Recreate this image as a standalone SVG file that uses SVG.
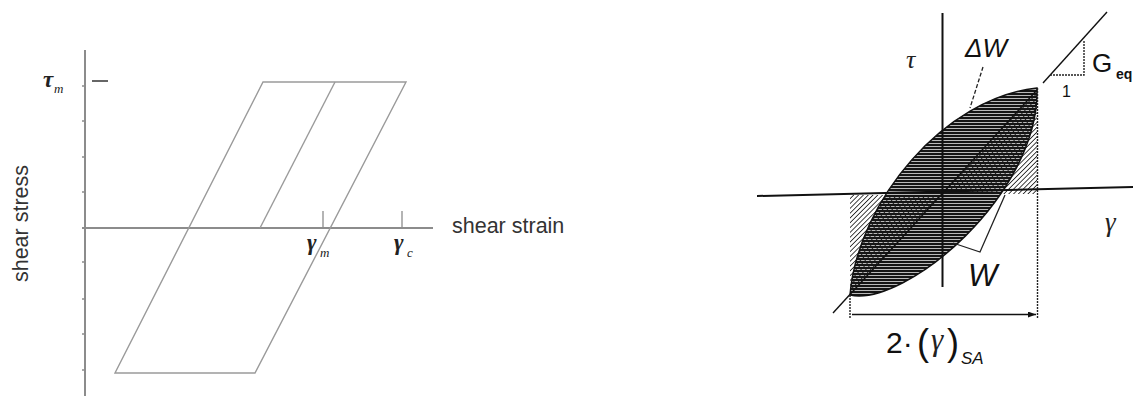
<svg xmlns="http://www.w3.org/2000/svg" width="1141" height="396" viewBox="0 0 1141 396">
<style>
.ax{stroke:#8c8c8c;stroke-width:2;fill:none}
.tk{stroke:#8c8c8c;stroke-width:1.3;fill:none}
.pl{stroke:#9a9a9a;stroke-width:1.4;fill:none}
.lab{font-family:"Liberation Sans",Arial,sans-serif;fill:#333}
.mth{font-family:"Liberation Serif","Times New Roman",serif;font-style:italic;fill:#222}
.bk{stroke:#111;stroke-width:2;fill:none}
.th{stroke:#111;stroke-width:1.4;fill:none}
.dot{stroke:#222;stroke-width:1.4;fill:none;stroke-dasharray:2 1}
.rs{font-family:"Liberation Sans",Arial,sans-serif;fill:#111}
</style>
<defs>
<pattern id="diag" patternUnits="userSpaceOnUse" width="3.4" height="3.4" patternTransform="rotate(45)">
<rect width="3.4" height="3.4" fill="#fff"/>
<line x1="0" y1="0" x2="0" y2="3.4" stroke="#222" stroke-width="1.7"/>
</pattern>
<pattern id="horiz" patternUnits="userSpaceOnUse" width="4" height="3">
<rect width="4" height="2.3" fill="#151515"/>
</pattern>
<marker id="ar" viewBox="0 0 8 6" refX="8" refY="3" markerWidth="8" markerHeight="6" orient="auto-start-reverse" markerUnits="userSpaceOnUse">
<path d="M0,0 L8,3 L0,6 z" fill="#111"/>
</marker>
</defs>
<rect width="1141" height="396" fill="#fff"/>

<g id="left-chart">
<g id="left-axes">
<line class="ax" x1="85" y1="50" x2="85" y2="396"/>
<line class="ax" x1="82" y1="228" x2="433" y2="228"/>
<path class="tk" d="M82,86H85M82,121H85M82,157H85M82,192H85M82,262H85M82,299H85M82,334H85M82,370H85"/>
<line x1="92" y1="81" x2="108" y2="81" stroke="#666" stroke-width="2"/>
<line class="tk" x1="323" y1="211" x2="323" y2="228"/>
<line class="tk" x1="402" y1="211" x2="402" y2="228"/>
</g>
<g id="loop-outer">
<path class="pl" d="M263,82 L406,82 L255,373 L115,373 Z"/>
</g>
<g id="loop-inner">
<path class="pl" d="M335,82 L260,228"/>
</g>
<g id="left-labels">
<text class="mth" x="43" y="87" font-size="23" font-weight="bold">τ</text>
<text class="mth" x="54" y="93" font-size="13">m</text>
<text class="mth" x="307" y="250" font-size="23" font-weight="bold">γ</text>
<text class="mth" x="320" y="257" font-size="13">m</text>
<text class="mth" x="394" y="250" font-size="23" font-weight="bold">γ</text>
<text class="mth" x="407" y="257" font-size="13">c</text>
<text class="lab" x="452" y="233" font-size="21.5">shear strain</text>
<text class="lab" x="0" y="0" font-size="21.5" text-anchor="middle" transform="translate(28,223.5) rotate(-90)">shear stress</text>
</g>
</g>

<g id="right-chart">
<g id="elastic-triangles">
<path d="M942,195 L850,195 L850,295 Z" fill="url(#diag)"/>
<path d="M942,194 L1037,194 L1037,90 Z" fill="url(#diag)"/>
</g>
<g id="hysteresis-loop">
<path d="M850,295 C858,200 945,98 1037,88 C1040,195 905,307 850,295 Z" fill="url(#horiz)" stroke="#111" stroke-width="1.5"/>
</g>
<g id="connectors">
<line class="bk" x1="942.5" y1="13" x2="942.5" y2="287"/>
<line class="bk" x1="757" y1="196" x2="1133" y2="187"/>
<line class="th" x1="833" y1="313" x2="1037" y2="90"/>
<line class="th" x1="1043" y1="83" x2="1107" y2="12"/>
<line class="dot" x1="1037.5" y1="88" x2="1037.5" y2="318"/>
<line class="dot" x1="850" y1="295" x2="850" y2="318"/>
<line class="th" x1="852" y1="314.5" x2="1036" y2="314.5" marker-end="url(#ar)"/>
<path class="dot" d="M1050,75 H1084 V41"/>
<polyline points="953,243 980,252 1005,195" fill="none" stroke="#222" stroke-width="1.3"/>
<line x1="983" y1="67" x2="970" y2="108" stroke="#222" stroke-width="1.3" stroke-dasharray="4 2"/>
</g>
<g id="right-labels">
<text class="mth" x="906" y="68" font-size="26">τ</text>
<text class="rs" x="965" y="57" font-size="26" font-style="italic">ΔW</text>
<text class="rs" x="1092" y="72" font-size="26">G</text>
<text class="rs" x="1116" y="79" font-size="14" font-weight="bold">eq</text>
<text class="rs" x="1062" y="97" font-size="16">1</text>
<text class="rs" x="968" y="286" font-size="31" font-style="italic">W</text>
<text class="mth" x="1105" y="231" font-size="27">γ</text>
<text class="rs" x="886" y="353" font-size="30">2·</text>
<text class="rs" x="917" y="355" font-size="36">(</text>
<text class="mth" x="931" y="350" font-size="31">γ</text>
<text class="rs" x="947" y="355" font-size="36">)</text>
<text class="rs" x="961" y="364" font-size="17" font-style="italic">SA</text>
</g>
</g>
</svg>
